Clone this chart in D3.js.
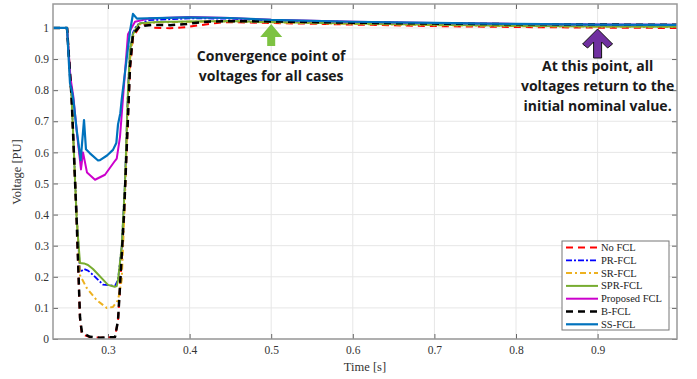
<!DOCTYPE html>
<html>
<head>
<meta charset="utf-8">
<script src="https://cdn.jsdelivr.net/npm/d3@7"></script>
<style>
  body { margin: 0; background: #fff; }
  svg { display: block; }
  .note { font-family: "Open Sans", sans-serif; font-weight: bold; font-size: 14px; fill: #1a1a1a; }
</style>
</head>
<body>
<script>
// series values, [time s, voltage pu]
var noFCL = [[0.2326,1],[0.2498,1],[0.2555,0.77],[0.2616,0.38],[0.2657,0.06],[0.2681,0.015],[0.2779,0.006],[0.2902,0.004],[0.3000,0.005],[0.3086,0.006],[0.3123,0.06],[0.3147,0.17],[0.3196,0.40],[0.3270,0.87],[0.3306,0.97],[0.3392,1.006],[0.3490,1.013],[0.3551,1.001],[0.3760,0.999],[0.3968,1.003],[0.4128,1.009],[0.4336,1.016],[0.4458,1.019],[0.5,1.016],[0.6,1.011],[0.7,1.006],[0.8,1.003],[0.9,1.001],[0.9973,1.0]];
var prFCL = [[0.2326,1],[0.2498,1],[0.2555,0.77],[0.2616,0.40],[0.2657,0.215],[0.2706,0.225],[0.2755,0.22],[0.2816,0.206],[0.2939,0.175],[0.3086,0.171],[0.3123,0.19],[0.3168,0.296],[0.3208,0.50],[0.3245,0.80],[0.3270,0.93],[0.3306,0.985],[0.3355,1.01],[0.3500,1.025],[0.4000,1.031],[0.4500,1.03],[0.5,1.024],[0.6,1.019],[0.7,1.015],[0.8,1.012],[0.9,1.010],[0.9973,1.009]];
var srFCL = [[0.2326,1],[0.2498,1],[0.2555,0.77],[0.2616,0.40],[0.2657,0.205],[0.2739,0.164],[0.2861,0.125],[0.2984,0.10],[0.3061,0.103],[0.3123,0.125],[0.3168,0.19],[0.3208,0.45],[0.3245,0.78],[0.3270,0.90],[0.3306,0.97],[0.3355,1.0],[0.3392,1.012],[0.3600,1.018],[0.4000,1.02],[0.4500,1.021],[0.5,1.018],[0.6,1.013],[0.7,1.009],[0.8,1.006],[0.9,1.004],[0.9973,1.003]];
var sprFCL = [[0.2326,1],[0.2498,1],[0.2555,0.77],[0.2616,0.383],[0.2657,0.244],[0.2706,0.243],[0.2755,0.238],[0.2816,0.225],[0.3000,0.174],[0.3082,0.168],[0.3107,0.17],[0.3123,0.19],[0.3168,0.296],[0.3208,0.50],[0.3245,0.80],[0.3270,0.93],[0.3306,0.98],[0.3355,1.005],[0.3392,1.015],[0.3600,1.019],[0.4000,1.021],[0.4500,1.022],[0.5,1.019],[0.6,1.014],[0.7,1.010],[0.8,1.007],[0.9,1.005],[0.9973,1.004]];
var proposedFCL = [[0.2326,1],[0.2498,1],[0.2540,0.84],[0.2575,0.78],[0.2620,0.66],[0.2669,0.545],[0.2694,0.60],[0.2743,0.535],[0.2841,0.512],[0.2963,0.528],[0.3086,0.573],[0.3107,0.58],[0.3147,0.65],[0.3200,0.83],[0.3245,0.98],[0.3331,1.02],[0.3500,1.03],[0.4000,1.035],[0.4500,1.032],[0.5,1.026],[0.6,1.020],[0.7,1.016],[0.8,1.013],[0.9,1.011],[0.9973,1.010]];
var bFCL = [[0.2326,1],[0.2498,1],[0.2555,0.77],[0.2616,0.38],[0.2657,0.07],[0.2681,0.02],[0.2779,0.007],[0.2902,0.004],[0.3000,0.006],[0.3086,0.006],[0.3123,0.06],[0.3147,0.17],[0.3196,0.40],[0.3270,0.875],[0.3306,0.98],[0.3392,1.006],[0.3551,1.01],[0.3760,1.009],[0.3968,1.013],[0.4213,1.02],[0.4500,1.022],[0.5,1.021],[0.6,1.017],[0.7,1.014],[0.8,1.012],[0.9,1.011],[0.9973,1.01]];
var ssFCL = [[0.2326,1],[0.2498,1],[0.2534,0.823],[0.2563,0.79],[0.2575,0.77],[0.2616,0.672],[0.2665,0.575],[0.2706,0.704],[0.2730,0.61],[0.2779,0.597],[0.2878,0.574],[0.2902,0.575],[0.2988,0.59],[0.3061,0.608],[0.3102,0.63],[0.3123,0.69],[0.3151,0.726],[0.3168,0.77],[0.3270,0.99],[0.3306,1.045],[0.3355,1.03],[0.3968,1.034],[0.4500,1.032],[0.5,1.026],[0.6,1.020],[0.7,1.016],[0.8,1.013],[0.9,1.011],[0.9973,1.010]];

var seriesNames = ["No FCL", "PR-FCL", "SR-FCL", "SPR-FCL", "Proposed FCL", "B-FCL", "SS-FCL"];
var seriesData = [noFCL, prFCL, srFCL, sprFCL, proposedFCL, bFCL, ssFCL];
var xTicks = [0.3, 0.4, 0.5, 0.6, 0.7, 0.8, 0.9];
var yTicks = [0, 0.1, 0.2, 0.3, 0.4, 0.5, 0.6, 0.7, 0.8, 0.9, 1];

var styles = [
    { color: "#ff0000", width: 2, dash: "7,5" },
    { color: "#0000ff", width: 1.8, dash: "6,2,2,2" },
    { color: "#edb120", width: 2, dash: "6,3,2,3" },
    { color: "#77ac30", width: 2, dash: null },
    { color: "#cc00cc", width: 2, dash: null },
    { color: "#000000", width: 2.5, dash: "7,5" },
    { color: "#0072bd", width: 2.2, dash: null }
];

var serif = "'Liberation Serif', 'DejaVu Serif', serif";
var W = 697, H = 379;
var mL = 53, mR = 677, mT = 4, mB = 339;

var x = d3.scaleLinear().domain([0.2326, 0.9973]).range([mL, mR]);
var y = d3.scaleLinear().domain([0, 1.077]).range([mB, mT]);

var svg = d3.select("body").append("svg")
    .attr("width", W)
    .attr("height", H);

svg.append("rect").attr("width", W).attr("height", H).attr("fill", "#fff");

// grid
svg.append("g").selectAll("line").data(xTicks).enter().append("line")
    .attr("x1", function(d) { return x(d) }).attr("x2", function(d) { return x(d) })
    .attr("y1", mT).attr("y2", mB)
    .attr("stroke", "#e6e6e6").attr("stroke-width", 1);
svg.append("g").selectAll("line").data(yTicks).enter().append("line")
    .attr("y1", function(d) { return y(d) }).attr("y2", function(d) { return y(d) })
    .attr("x1", mL).attr("x2", mR)
    .attr("stroke", "#e6e6e6").attr("stroke-width", 1);

// axes, ticks inside like matlab
var fmt = function(d) { return d === 0 ? "0" : d === 1 ? "1" : d3.format(".1f")(d) };
var xAxis = svg.append("g").attr("transform", "translate(0," + mB + ")")
    .call(d3.axisBottom(x).tickValues(xTicks).tickSizeInner(-5).tickSizeOuter(0).tickPadding(7).tickFormat(fmt));
var yAxis = svg.append("g").attr("transform", "translate(" + mL + ",0)")
    .call(d3.axisLeft(y).tickValues(yTicks).tickSizeInner(-5).tickSizeOuter(0).tickPadding(4).tickFormat(fmt));
var xTop = svg.append("g").attr("transform", "translate(0," + mT + ")")
    .call(d3.axisTop(x).tickValues(xTicks).tickSizeInner(-5).tickSizeOuter(0).tickFormat(""));
var yRight = svg.append("g").attr("transform", "translate(" + mR + ",0)")
    .call(d3.axisRight(y).tickValues(yTicks).tickSizeInner(-5).tickSizeOuter(0).tickFormat(""));
[xAxis, yAxis, xTop, yRight].forEach(function(a) {
    a.select(".domain").remove();
    a.selectAll(".tick line").attr("stroke", "#666");
    a.selectAll(".tick text")
        .style("font-family", serif)
        .style("font-size", "11.5px")
        .style("fill", "#333");
});

svg.append("defs").append("clipPath").attr("id", "clip")
    .append("rect").attr("x", mL).attr("y", mT).attr("width", mR - mL).attr("height", mB - mT);

var line = d3.line()
    .x(function(d) { return x(d[0]) })
    .y(function(d) { return y(d[1]) });

var plot = svg.append("g").attr("clip-path", "url(#clip)");
seriesData.forEach(function(s, i) {
    plot.append("path")
        .attr("d", line(s))
        .attr("fill", "none")
        .attr("stroke", styles[i].color)
        .attr("stroke-width", styles[i].width)
        .attr("stroke-dasharray", styles[i].dash)
        .attr("stroke-linejoin", "round");
});

// box
svg.append("rect")
    .attr("x", mL).attr("y", mT).attr("width", mR - mL).attr("height", mB - mT)
    .attr("fill", "none").attr("stroke", "#999").attr("stroke-width", 1.5);

// axis labels
svg.append("text")
    .attr("x", 365).attr("y", 371)
    .attr("text-anchor", "middle")
    .style("font-family", serif).style("font-size", "12.5px").style("fill", "#333")
    .text("Time [s]");
svg.append("text")
    .attr("transform", "rotate(-90)")
    .attr("x", -172).attr("y", 21)
    .attr("text-anchor", "middle")
    .style("font-family", serif).style("font-size", "12.5px").style("fill", "#333")
    .text("Voltage [PU]");

// legend
var lg = svg.append("g");
lg.append("rect").attr("x", 562).attr("y", 241).attr("width", 107).attr("height", 89)
    .attr("fill", "#fff").attr("stroke", "#777").attr("stroke-width", 1);
seriesNames.forEach(function(name, i) {
    var ly = 247.5 + i * 12.8;
    lg.append("line").attr("x1", 566).attr("x2", 598).attr("y1", ly).attr("y2", ly)
        .attr("stroke", styles[i].color).attr("stroke-width", styles[i].width)
        .attr("stroke-dasharray", styles[i].dash);
    lg.append("text").attr("x", 601).attr("y", ly + 3.5)
        .style("font-family", serif).style("font-size", "10.5px").style("fill", "#222")
        .text(name);
});

// annotations
var gx = x(0.5);
svg.append("path")
    .attr("d", "M" + gx + ",24 L" + (gx + 11) + ",37 L" + (gx + 4) + ",37 L" + (gx + 4) + ",46 L" + (gx - 4) + ",46 L" + (gx - 4) + ",37 L" + (gx - 11) + ",37 Z")
    .attr("fill", "#7dc242");
svg.append("text").attr("class", "note").attr("x", gx).attr("y", 61).attr("text-anchor", "middle").text("Convergence point of");
svg.append("text").attr("class", "note").attr("x", gx).attr("y", 81).attr("text-anchor", "middle").text("voltages for all cases");

var px = x(0.9);
svg.append("path")
    .attr("d", "M" + px + ",29 L" + (px + 15) + ",44 L" + (px + 10) + ",48 L" + (px + 4) + ",42 L" + (px + 4) + ",58 L" + (px - 4) + ",58 L" + (px - 4) + ",42 L" + (px - 10) + ",48 L" + (px - 15) + ",44 Z")
    .attr("fill", "#7030a0").attr("stroke", "#111").attr("stroke-width", 1);
svg.append("text").attr("class", "note").attr("x", px).attr("y", 71).attr("text-anchor", "middle").text("At this point, all");
svg.append("text").attr("class", "note").attr("x", px).attr("y", 91).attr("text-anchor", "middle").text("voltages return to the");
svg.append("text").attr("class", "note").attr("x", px).attr("y", 111).attr("text-anchor", "middle").text("initial nominal value.");
</script>
</body>
</html>
